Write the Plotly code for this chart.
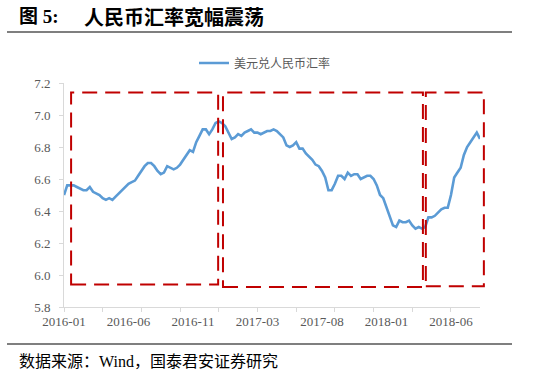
import plotly.graph_objects as go

# ---- data (weekly samples) ----
usdcny = [
    6.50, 6.56, 6.56, 6.56, 6.55, 6.54, 6.53, 6.53, 6.55, 6.52,
    6.51, 6.50, 6.48, 6.47, 6.48, 6.47, 6.49, 6.51, 6.53, 6.55,
    6.57, 6.58, 6.59, 6.62, 6.65, 6.68, 6.70, 6.70, 6.68, 6.65,
    6.63, 6.64, 6.68, 6.67, 6.66, 6.67, 6.69, 6.72, 6.75, 6.78,
    6.77, 6.83, 6.87, 6.91, 6.91, 6.88, 6.91, 6.95, 6.96, 6.95,
    6.93, 6.89, 6.85, 6.86, 6.88, 6.87, 6.89, 6.90, 6.91, 6.89,
    6.89, 6.88, 6.89, 6.90, 6.90, 6.91, 6.90, 6.88, 6.86, 6.81,
    6.80, 6.81, 6.83, 6.79, 6.79, 6.76, 6.74, 6.72, 6.69, 6.68,
    6.65, 6.61, 6.53, 6.53, 6.57, 6.62, 6.62, 6.60, 6.64, 6.62,
    6.63, 6.63, 6.60, 6.61, 6.62, 6.62, 6.60, 6.56, 6.50, 6.48,
    6.42, 6.37, 6.31, 6.30, 6.34, 6.33, 6.33, 6.34, 6.31, 6.29,
    6.30, 6.29, 6.30, 6.36, 6.36, 6.37, 6.39, 6.41, 6.42, 6.42,
    6.50, 6.61, 6.64, 6.67, 6.75, 6.80, 6.83, 6.86, 6.89, 6.85,
]
tick_labels = ["2016-01", "2016-06", "2016-11", "2017-03", "2017-08", "2018-01", "2018-06"]
y_ticks = [5.8, 6.0, 6.2, 6.4, 6.6, 6.8, 7.0, 7.2]
series_name = "美元兑人民币汇率"

# highlighted periods (x in sample index units, y in rate units)
box_x = [(2.2, 47.8), (49.3, 111.3), (112.2, 130.2)]
box_y = [(5.94, 7.14), (5.925, 7.14), (5.93, 7.14)]

N = len(usdcny)
xs = list(range(N))
label_step = 20
tickvals = [i * label_step for i in range(len(tick_labels))]

W, H = 537, 374
L, R, T, B = 64, 57, 83, 67
X0, X1 = 0, N - 1
Y0, Y1 = 5.8, 7.2


def px_x(p):
    return (p - L) / (W - L - R)


def px_y(p):
    return (H - B - p) / (H - T - B)


def dx(v):
    return (v - X0) / (X1 - X0)


def dy(v):
    return (v - Y0) / (Y1 - Y0)


fig = go.Figure()
fig.add_trace(go.Scatter(
    x=xs, y=usdcny, mode="lines", name=series_name,
    line=dict(color="#5b9bd5", width=2.6),
))

shapes = []
for (xa, xb), (ya, yb) in zip(box_x, box_y):
    shapes.append(dict(
        type="rect", xref="paper", yref="paper",
        x0=dx(xa), x1=dx(xb), y0=dy(ya), y1=dy(yb),
        line=dict(color="#c00000", width=2, dash="15px,8px"),
        fillcolor="rgba(0,0,0,0)",
    ))
# rules under title and above source
for yy in (32, 344):
    shapes.append(dict(
        type="line", xref="paper", yref="paper",
        x0=px_x(7), x1=px_x(512), y0=px_y(yy), y1=px_y(yy),
        line=dict(color="#000000", width=1.2),
    ))

annotations = [
    dict(text="<b>图 5:</b>", xref="paper", yref="paper", x=px_x(17), y=px_y(17),
         xanchor="left", yanchor="middle", showarrow=False,
         font=dict(family="Liberation Serif, Noto Sans CJK SC", size=19, color="#000000")),
    dict(text="<b>人民币汇率宽幅震荡</b>", xref="paper", yref="paper", x=px_x(82), y=px_y(17),
         xanchor="left", yanchor="middle", showarrow=False,
         font=dict(family="Noto Sans CJK SC", size=20, color="#000000")),
    dict(text="数据来源：Wind，国泰君安证券研究", xref="paper", yref="paper",
         x=px_x(17), y=px_y(361), xanchor="left", yanchor="middle", showarrow=False,
         font=dict(family="Liberation Serif, Noto Sans CJK SC", size=16, color="#000000")),
]

axis_font = dict(family="Liberation Serif, Times New Roman, serif", size=13, color="#595959")

fig.update_layout(
    width=W, height=H,
    margin=dict(l=L, r=R, t=T, b=B, pad=0),
    paper_bgcolor="white", plot_bgcolor="white",
    showlegend=True,
    legend=dict(orientation="h", x=px_x(194), y=px_y(63), xanchor="left", yanchor="middle",
                font=dict(family="Noto Sans CJK SC", size=12, color="#595959"),
                bgcolor="rgba(0,0,0,0)"),
    xaxis=dict(
        range=[X0, X1], showgrid=False, zeroline=False,
        showline=True, linecolor="#d9d9d9", linewidth=1,
        tickmode="array", tickvals=tickvals, ticktext=tick_labels,
        ticks="", tickfont=axis_font, ticklabelstandoff=2,
        minor=dict(tickmode="linear", tick0=0, dtick=12, ticks="outside",
                   ticklen=4, tickcolor="#d9d9d9", showgrid=False),
        fixedrange=True,
    ),
    yaxis=dict(
        range=[Y0, Y1], showgrid=False, zeroline=False,
        showline=True, linecolor="#d9d9d9", linewidth=1,
        tickmode="array", tickvals=y_ticks, ticktext=[f"{v:.1f}" for v in y_ticks],
        ticks="outside", ticklen=4, tickcolor="#d9d9d9", tickfont=axis_font,
        ticklabelstandoff=6,
        fixedrange=True,
    ),
    shapes=shapes,
    annotations=annotations,
)

fig.write_html("out.html")
